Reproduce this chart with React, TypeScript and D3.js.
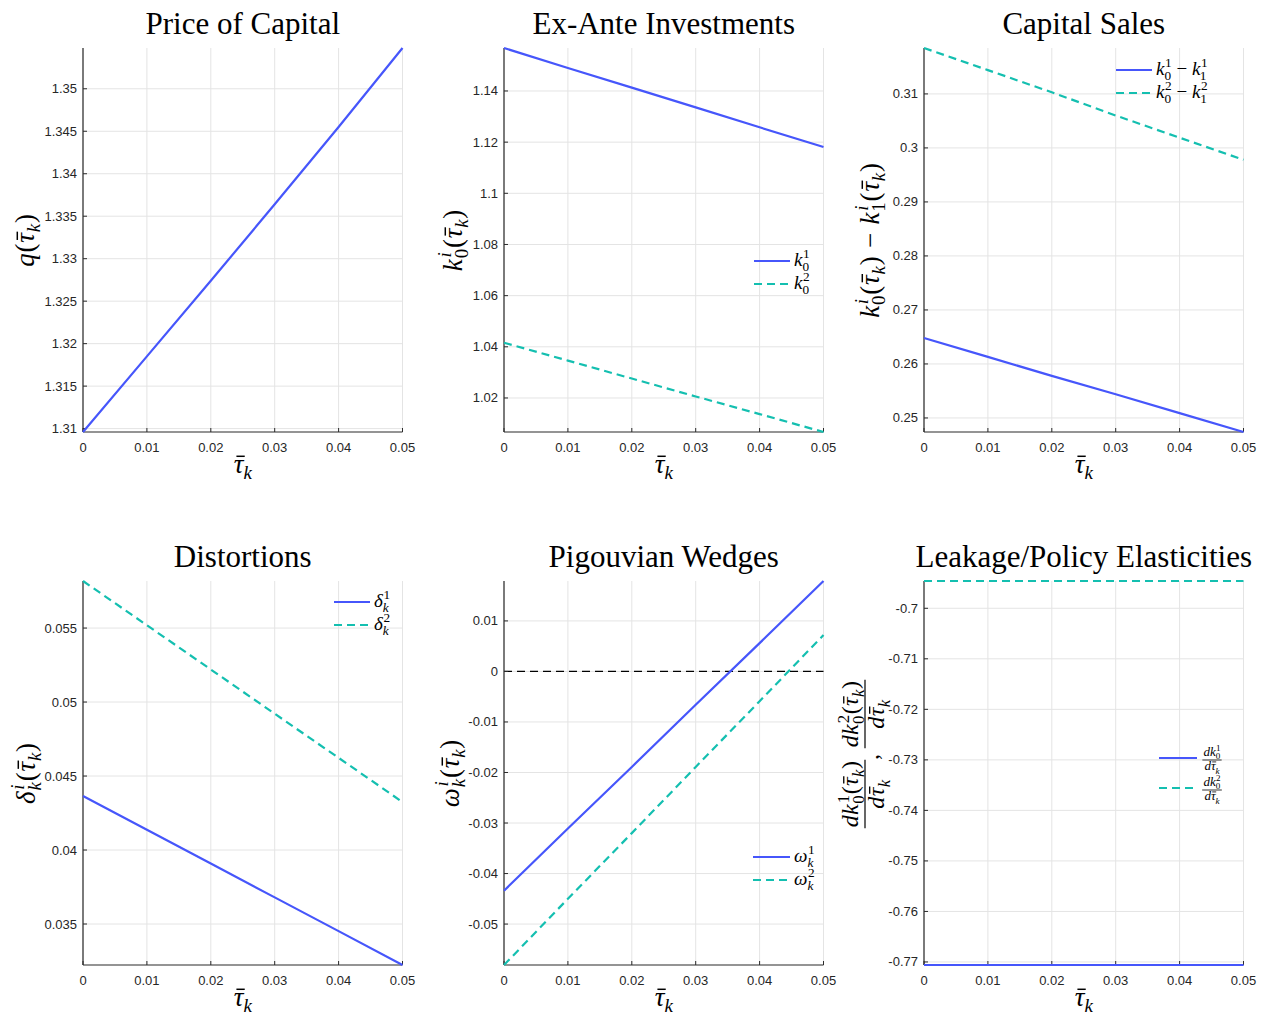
import React, { useEffect, useRef } from "react";
import * as d3 from "d3";

// ---------------- data ----------------
const TAU_GRID = [0, 0.01, 0.02, 0.03, 0.04, 0.05];
const X_TICKS = [0, 0.01, 0.02, 0.03, 0.04, 0.05];

const PRICE_OF_CAPITAL = [1.3096, 1.3185, 1.3274, 1.3364, 1.3455, 1.3548];
const K0_TYPE1 = [1.1568, 1.149, 1.1413, 1.1336, 1.1258, 1.1181];
const K0_TYPE2 = [1.0416, 1.0346, 1.0276, 1.0206, 1.0137, 1.0067];
const SALES_TYPE1 = [0.2648, 0.2613, 0.2578, 0.2544, 0.2509, 0.2474];
const SALES_TYPE2 = [0.3185, 0.3144, 0.3103, 0.306, 0.3019, 0.2978];
const DIST_TYPE1 = [0.04365, 0.04137, 0.03909, 0.0368, 0.03452, 0.03223];
const DIST_TYPE2 = [0.05818, 0.05519, 0.0522, 0.04921, 0.04623, 0.04324];
const WEDGE_TYPE1 = [-0.0434, -0.0311, -0.0189, -0.0066, 0.0056, 0.0179];
const WEDGE_TYPE2 = [-0.0581, -0.045, -0.032, -0.0189, -0.0059, 0.0072];
const ELAST_TYPE1 = [-0.7706, -0.7706, -0.7706, -0.7706, -0.7706, -0.7706];
const ELAST_TYPE2 = [-0.6946, -0.6946, -0.6946, -0.6946, -0.6946, -0.6946];

const TITLES = [
  "Price of Capital",
  "Ex-Ante Investments",
  "Capital Sales",
  "Distortions",
  "Pigouvian Wedges",
  "Leakage/Policy Elasticities",
];
const Y_TICK_STEPS = [0.005, 0.02, 0.01, 0.005, 0.01, 0.01];

// ---------------- styles ----------------
const MATH_FONT = "'Liberation Serif', 'Times New Roman', serif";
const TICK_FONT = "'Liberation Sans', Arial, Helvetica, sans-serif";
const BLUE = "#4656fb";
const TEAL = "#14bfb0";
const GRID = "#e4e4e4";
const AXIS = "#2b2b2b";
const TICK_TEXT = "#262626";
const DASH = "8,5";

type Tok = { t: string; bar?: boolean; sub?: string; sup?: string; up?: boolean };

const tauK: Tok = { t: "τ", bar: true, sub: "k" };
const isItal = (s: string) => /[A-Za-z\u03b1-\u03c9]/.test(s);

function renderMath(parent: any, toks: Tok[], size: number, x: number, y: number, anchor = "start", spacing = 0) {
  const text = parent
    .append("text")
    .attr("x", x)
    .attr("y", y)
    .attr("text-anchor", anchor)
    .attr("font-family", MATH_FONT)
    .attr("font-size", size)
    .attr("fill", "#000")
    .attr("letter-spacing", spacing)
    .style("white-space", "pre");
  const bars: { idx: number; size: number }[] = [];
  let idx = 0;
  let pendDy = 0;
  let pendDx = 0;
  const small = size * 0.7;
  const supShift = size * 0.4;
  const subShift = size * 0.24;
  const styleOf = (s: string, up?: boolean) => (!up && isItal(s) ? "italic" : "normal");
  for (const tok of toks) {
    const ts = text.append("tspan").text(tok.t).attr("font-style", styleOf(tok.t, tok.up));
    if (pendDy) ts.attr("dy", pendDy);
    if (pendDx) ts.attr("dx", pendDx);
    pendDy = 0;
    pendDx = 0;
    if (tok.bar) for (let i = 0; i < tok.t.length; i++) bars.push({ idx: idx + i, size });
    idx += tok.t.length;
    if (tok.sup !== undefined && tok.sub !== undefined) {
      const sp = text
        .append("tspan")
        .text(tok.sup)
        .attr("font-size", small)
        .attr("font-style", styleOf(tok.sup))
        .attr("dx", size * 0.03)
        .attr("dy", -supShift);
      const w1 = (sp.node() as any).getComputedTextLength() + size * 0.03;
      const sb = text
        .append("tspan")
        .text(tok.sub)
        .attr("font-size", small)
        .attr("font-style", styleOf(tok.sub))
        .attr("dx", -w1)
        .attr("dy", supShift + subShift);
      const w2 = (sb.node() as any).getComputedTextLength();
      idx += tok.sup.length + tok.sub.length;
      pendDy = -subShift;
      pendDx = Math.max(0, w1 - w2);
    } else if (tok.sup !== undefined) {
      text
        .append("tspan")
        .text(tok.sup)
        .attr("font-size", small)
        .attr("font-style", styleOf(tok.sup))
        .attr("dy", -supShift);
      idx += tok.sup.length;
      pendDy = supShift;
    } else if (tok.sub !== undefined) {
      text
        .append("tspan")
        .text(tok.sub)
        .attr("font-size", small)
        .attr("font-style", styleOf(tok.sub))
        .attr("dy", subShift);
      idx += tok.sub.length;
      pendDy = -subShift;
    }
  }
  const node = text.node() as any;
  for (const b of bars) {
    const e = node.getExtentOfChar(b.idx);
    const yy = e.y + b.size * 0.27;
    parent
      .append("line")
      .attr("x1", e.x + b.size * 0.1)
      .attr("x2", e.x + e.width + b.size * 0.05 - spacing)
      .attr("y1", yy)
      .attr("y2", yy)
      .attr("stroke", "#000")
      .attr("stroke-width", Math.max(0.8, b.size * 0.055));
  }
  return text;
}

function renderFrac(parent: any, num: Tok[], den: Tok[], size: number, cx: number, barY: number, spacing = 0) {
  const n = renderMath(parent, num, size, cx, barY - size * 0.28, "middle", spacing);
  const d = renderMath(parent, den, size, cx, barY + size * 0.8, "middle", spacing);
  const w = Math.max((n.node() as any).getBBox().width, (d.node() as any).getBBox().width);
  parent
    .append("line")
    .attr("x1", cx - w / 2 - 1)
    .attr("x2", cx + w / 2 + 1)
    .attr("y1", barY)
    .attr("y2", barY)
    .attr("stroke", "#000")
    .attr("stroke-width", Math.max(0.8, size * 0.05));
}

type Series = { values: number[]; color: string; dashed: boolean; legend?: Tok[]; legendFrac?: [Tok[], Tok[]] };
type Panel = {
  title: string;
  series: Series[];
  step: number;
  ylabel: Tok[] | null;
  ylabelDx: number;
  legend?: { x1: number; x2: number; ys: number[]; tx: number; size: number };
  zeroLine?: boolean;
};

const dk = (n: string): Tok[] => [{ t: "d" }, { t: "k", sup: n, sub: "0" }];
const dTau: Tok[] = [{ t: "d" }, tauK];

const PANELS: Panel[] = [
  {
    title: TITLES[0],
    series: [{ values: PRICE_OF_CAPITAL, color: BLUE, dashed: false }],
    step: Y_TICK_STEPS[0],
    ylabel: [{ t: "q" }, { t: "(" }, tauK, { t: ")" }],
    ylabelDx: -49,
  },
  {
    title: TITLES[1],
    series: [
      { values: K0_TYPE1, color: BLUE, dashed: false, legend: [{ t: "k", sup: "1", sub: "0" }] },
      { values: K0_TYPE2, color: TEAL, dashed: true, legend: [{ t: "k", sup: "2", sub: "0" }] },
    ],
    step: Y_TICK_STEPS[1],
    ylabel: [{ t: "k", sup: "i", sub: "0" }, { t: "(" }, tauK, { t: ")" }],
    ylabelDx: -42,
    legend: { x1: 250, x2: 286, ys: [213, 236], tx: 290, size: 19 },
  },
  {
    title: TITLES[2],
    series: [
      {
        values: SALES_TYPE1,
        color: BLUE,
        dashed: false,
        legend: [{ t: "k", sup: "1", sub: "0" }, { t: " − " }, { t: "k", sup: "1", sub: "1" }],
      },
      {
        values: SALES_TYPE2,
        color: TEAL,
        dashed: true,
        legend: [{ t: "k", sup: "2", sub: "0" }, { t: " − " }, { t: "k", sup: "2", sub: "1" }],
      },
    ],
    step: Y_TICK_STEPS[2],
    ylabel: [
      { t: "k", sup: "i", sub: "0" },
      { t: "(" },
      tauK,
      { t: ")" },
      { t: " − " },
      { t: "k", sup: "i", sub: "1" },
      { t: "(" },
      tauK,
      { t: ")" },
    ],
    ylabelDx: -45,
    legend: { x1: 192, x2: 228, ys: [22, 45], tx: 232, size: 19 },
  },
  {
    title: TITLES[3],
    series: [
      { values: DIST_TYPE1, color: BLUE, dashed: false, legend: [{ t: "δ", sup: "1", sub: "k" }] },
      { values: DIST_TYPE2, color: TEAL, dashed: true, legend: [{ t: "δ", sup: "2", sub: "k" }] },
    ],
    step: Y_TICK_STEPS[3],
    ylabel: [{ t: "δ", sup: "i", sub: "k" }, { t: "(" }, tauK, { t: ")" }],
    ylabelDx: -48,
    legend: { x1: 251, x2: 287, ys: [21, 44], tx: 291, size: 19 },
  },
  {
    title: TITLES[4],
    series: [
      { values: WEDGE_TYPE1, color: BLUE, dashed: false, legend: [{ t: "ω", sup: "1", sub: "k" }] },
      { values: WEDGE_TYPE2, color: TEAL, dashed: true, legend: [{ t: "ω", sup: "2", sub: "k" }] },
    ],
    step: Y_TICK_STEPS[4],
    ylabel: [{ t: "ω", sup: "i", sub: "k" }, { t: "(" }, tauK, { t: ")" }],
    ylabelDx: -45,
    legend: { x1: 249, x2: 286, ys: [276, 299], tx: 290, size: 19 },
    zeroLine: true,
  },
  {
    title: TITLES[5],
    series: [
      { values: ELAST_TYPE1, color: BLUE, dashed: false, legendFrac: [dk("1"), dTau] },
      { values: ELAST_TYPE2, color: TEAL, dashed: true, legendFrac: [dk("2"), dTau] },
    ],
    step: Y_TICK_STEPS[5],
    ylabel: null,
    ylabelDx: -59,
    legend: { x1: 235, x2: 273, ys: [177, 207], tx: 288, size: 13 },
  },
];

const LEFTS = [83, 504, 924];
const TOPS = [48, 581];
const PW = 319.5;
const PH = 384;

const fmt = (v: number) => {
  const s = String(+v.toFixed(6));
  return s === "-0" ? "0" : s;
};

function drawPanel(svg: any, p: Panel, left: number, top: number) {
  const x = d3.scaleLinear().domain([X_TICKS[0], X_TICKS[X_TICKS.length - 1]]).range([left, left + PW]);
  const all = p.series.flatMap((s) => s.values);
  const [lo, hi] = d3.extent(all) as [number, number];
  const y = d3.scaleLinear().domain([lo, hi]).range([top + PH, top]);
  const i0 = Math.ceil(lo / p.step - 1e-6);
  const i1 = Math.floor(hi / p.step + 1e-6);
  const yTicks = d3.range(i0, i1 + 1).map((i) => +(i * p.step).toFixed(6));
  const g = svg.append("g");

  // grid
  g.selectAll("line.gx")
    .data(X_TICKS)
    .join("line")
    .attr("class", "gx")
    .attr("x1", (d: number) => x(d))
    .attr("x2", (d: number) => x(d))
    .attr("y1", top)
    .attr("y2", top + PH)
    .attr("stroke", GRID)
    .attr("stroke-width", 1);
  g.selectAll("line.gy")
    .data(yTicks)
    .join("line")
    .attr("class", "gy")
    .attr("x1", left)
    .attr("x2", left + PW)
    .attr("y1", (d: number) => y(d))
    .attr("y2", (d: number) => y(d))
    .attr("stroke", GRID)
    .attr("stroke-width", 1);

  if (p.zeroLine) {
    g.append("line")
      .attr("x1", left)
      .attr("x2", left + PW)
      .attr("y1", y(0))
      .attr("y2", y(0))
      .attr("stroke", "#000")
      .attr("stroke-width", 1.3)
      .attr("stroke-dasharray", DASH);
  }

  // axes
  g.append("line").attr("x1", left).attr("x2", left).attr("y1", top).attr("y2", top + PH).attr("stroke", AXIS).attr("stroke-width", 1.2);
  g.append("line").attr("x1", left).attr("x2", left + PW).attr("y1", top + PH).attr("y2", top + PH).attr("stroke", AXIS).attr("stroke-width", 1.2);
  g.selectAll("line.tx")
    .data(X_TICKS)
    .join("line")
    .attr("class", "tx")
    .attr("x1", (d: number) => x(d))
    .attr("x2", (d: number) => x(d))
    .attr("y1", top + PH)
    .attr("y2", top + PH - 4)
    .attr("stroke", AXIS)
    .attr("stroke-width", 1);
  g.selectAll("line.ty")
    .data(yTicks)
    .join("line")
    .attr("class", "ty")
    .attr("x1", left)
    .attr("x2", left + 4)
    .attr("y1", (d: number) => y(d))
    .attr("y2", (d: number) => y(d))
    .attr("stroke", AXIS)
    .attr("stroke-width", 1);
  g.selectAll("text.lx")
    .data(X_TICKS)
    .join("text")
    .attr("class", "lx")
    .attr("x", (d: number) => x(d))
    .attr("y", top + PH + 20)
    .attr("text-anchor", "middle")
    .attr("font-family", TICK_FONT)
    .attr("font-size", 13)
    .attr("fill", TICK_TEXT)
    .text((d: number) => fmt(d));
  g.selectAll("text.ly")
    .data(yTicks)
    .join("text")
    .attr("class", "ly")
    .attr("x", left - 6)
    .attr("y", (d: number) => y(d) + 4.5)
    .attr("text-anchor", "end")
    .attr("font-family", TICK_FONT)
    .attr("font-size", 13)
    .attr("fill", TICK_TEXT)
    .text((d: number) => fmt(d));

  // series
  const line = d3
    .line<number>()
    .x((_, i) => x(TAU_GRID[i]))
    .y((d) => y(d));
  for (const s of p.series) {
    g.append("path")
      .attr("d", line(s.values))
      .attr("fill", "none")
      .attr("stroke", s.color)
      .attr("stroke-width", 2.2)
      .attr("stroke-dasharray", s.dashed ? DASH : null);
  }

  // title
  g.append("text")
    .attr("x", left + PW / 2)
    .attr("y", top - 14)
    .attr("text-anchor", "middle")
    .attr("font-family", MATH_FONT)
    .attr("font-size", 31)
    .attr("fill", "#000")
    .text(p.title);

  // x label
  renderMath(g, [tauK], 27, left + PW / 2, top + PH + 41, "middle");

  // y label
  if (p.ylabel) {
    const yl = g.append("g").attr("transform", `translate(${left + p.ylabelDx},${top + PH / 2}) rotate(-90)`);
    renderMath(yl, p.ylabel, 27, 0, 0, "middle", 0.8);
  } else {
    const yl = g.append("g").attr("transform", `translate(${left + p.ylabelDx},${top + PH / 2 - 19}) rotate(-90)`);
    const num = (n: string): Tok[] => [{ t: "d" }, { t: "k", sup: n, sub: "0" }, { t: "(" }, tauK, { t: ")" }];
    renderFrac(yl, num("1"), dTau, 24, -40, 0, 0.4);
    yl.append("text")
      .attr("x", -3)
      .attr("y", 13)
      .attr("text-anchor", "middle")
      .attr("font-family", MATH_FONT)
      .attr("font-size", 24)
      .text(",");
    renderFrac(yl, num("2"), dTau, 24, 40, 0, 0.4);
  }

  // legend
  if (p.legend) {
    const L = p.legend;
    p.series.forEach((s, i) => {
      const ly = top + L.ys[i];
      g.append("line")
        .attr("x1", left + L.x1)
        .attr("x2", left + L.x2)
        .attr("y1", ly)
        .attr("y2", ly)
        .attr("stroke", s.color)
        .attr("stroke-width", 2.2)
        .attr("stroke-dasharray", s.dashed ? DASH : null);
      if (s.legend) {
        renderMath(g, s.legend, L.size, left + L.tx, ly + 5, "start");
      } else if (s.legendFrac) {
        renderFrac(g, s.legendFrac[0], s.legendFrac[1], L.size, left + L.tx, ly + 2);
      }
    });
  }
}

export default function App() {
  const ref = useRef<SVGSVGElement>(null);
  useEffect(() => {
    const svg = d3.select(ref.current);
    svg.selectAll("*").remove();
    PANELS.forEach((p, i) => {
      drawPanel(svg, p, LEFTS[i % 3], TOPS[Math.floor(i / 3)]);
    });
  }, []);
  return (
    <svg
      ref={ref}
      width={1266}
      height={1015}
      style={{ position: "absolute", left: 0, top: 0, background: "#fff" }}
    />
  );
}
